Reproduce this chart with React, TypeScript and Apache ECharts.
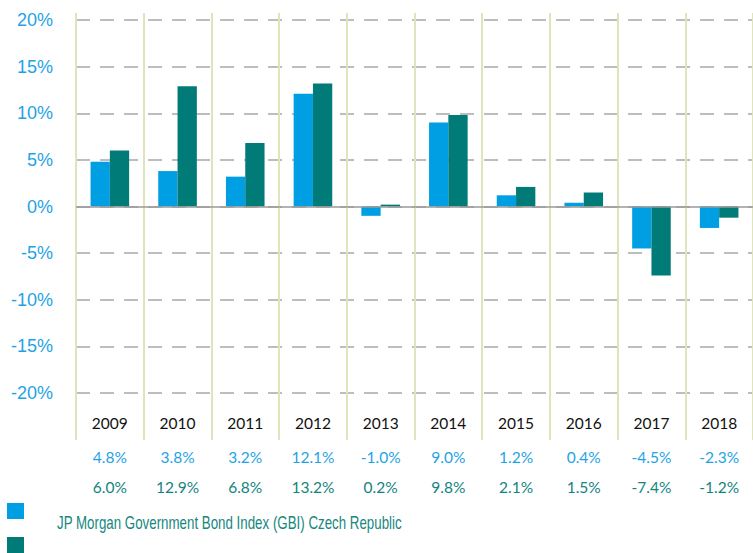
import React, { useEffect, useRef } from "react";
import * as echarts from "echarts";

const years = ["2009", "2010", "2011", "2012", "2013", "2014", "2015", "2016", "2017", "2018"];
const seriesA = [4.8, 3.8, 3.2, 12.1, -1.0, 9.0, 1.2, 0.4, -4.5, -2.3];
const seriesB = [6.0, 12.9, 6.8, 13.2, 0.2, 9.8, 2.1, 1.5, -7.4, -1.2];
const nameA = "JP Morgan Government Bond Index (GBI) Czech Republic";
const nameB = " ";

const BLUE = "#009ee2";
const TEAL = "#007b78";
const OLIVE = "#dfe4bd";

export default function App() {
  const ref = useRef<HTMLDivElement>(null);
  useEffect(() => {
    if (!ref.current) return;
    const chart = echarts.init(ref.current, undefined, { renderer: "svg" });
    const fmt = (v: number) => v.toFixed(1) + "%";
    chart.setOption({
      animation: false,
      grid: { left: 76, top: 20, width: 681, bottom: 160, containLabel: false },
      legend: {
        show: true,
        orient: "vertical",
        left: 7,
        top: 503,
        height: 60,
        padding: 0,
        itemWidth: 17,
        itemHeight: 16,
        itemGap: 18,
        icon: "rect",
        formatter: () => "",
        data: [nameA, nameB],
        selectedMode: false,
      },
      xAxis: [
        {
          type: "category",
          data: years,
          position: "bottom",
          axisLine: { show: false, onZero: false },
          axisTick: { show: true, interval: 0, length: 47, lineStyle: { color: OLIVE, width: 2 } },
          splitLine: { show: true, interval: 0, lineStyle: { color: OLIVE, width: 2 } },
          axisLabel: { interval: 0, margin: 22, color: "#111", fontSize: 15.5, fontFamily: "Lato" },
        },
        {
          type: "category",
          data: years,
          position: "top",
          axisLine: { show: false, onZero: false },
          axisTick: { show: true, interval: 0, length: 7, lineStyle: { color: OLIVE, width: 2 } },
          axisLabel: { show: false },
        },
        {
          type: "category",
          data: seriesA.map(fmt),
          position: "bottom",
          offset: 34,
          axisLine: { show: false, onZero: false },
          axisTick: { show: false },
          axisLabel: { interval: 0, margin: 22, color: "#1ea3e6", fontSize: 15.5, fontFamily: "Lato" },
        },
        {
          type: "category",
          data: seriesB.map(fmt),
          position: "bottom",
          offset: 64,
          axisLine: { show: false, onZero: false },
          axisTick: { show: false },
          axisLabel: { interval: 0, margin: 22, color: "#13847f", fontSize: 15.5, fontFamily: "Lato" },
        },
      ],
      yAxis: {
        type: "value",
        min: -20,
        max: 20,
        interval: 5,
        axisLine: { show: false },
        axisTick: { show: false },
        axisLabel: {
          formatter: "{value}%",
          color: "#1ea3e6",
          fontSize: 18,
          fontFamily: "Liberation Sans",
          margin: 23,
        },
        splitLine: { show: true, lineStyle: { color: "#a8a8a8", width: 1.5, type: [14, 10] } },
      },
      series: [
        {
          name: nameA,
          type: "bar",
          data: seriesA,
          xAxisIndex: 0,
          barGap: "0%",
          barCategoryGap: "43%",
          itemStyle: { color: BLUE },
          markLine: {
            silent: true,
            symbol: "none",
            label: { show: false },
            lineStyle: { color: "#9a9a9a", width: 1.5, type: "solid" },
            data: [{ yAxis: 0 }],
          },
        },
        {
          name: nameB,
          type: "bar",
          data: seriesB,
          xAxisIndex: 0,
          barGap: "0%",
          barCategoryGap: "43%",
          itemStyle: { color: TEAL },
        },
      ],
      graphic: [
        {
          type: "text",
          x: 57,
          y: 523,
          scaleX: 0.74,
          style: {
            text: nameA,
            fill: "#17877f",
            fontSize: 18,
            fontFamily: "Liberation Sans",
            verticalAlign: "middle",
            align: "left",
          },
        },
      ],
    });
    return () => chart.dispose();
  }, []);
  return <div ref={ref} style={{ width: 753, height: 553, position: "absolute", left: 0, top: 0 }} />;
}
